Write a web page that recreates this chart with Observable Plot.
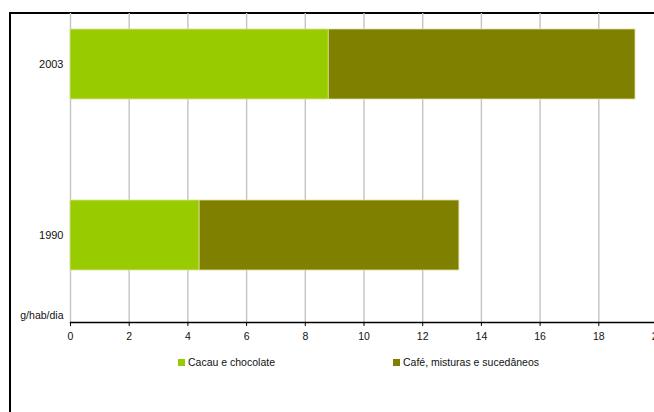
<!DOCTYPE html>
<html>
<head>
<meta charset="utf-8">
<script src="https://cdn.jsdelivr.net/npm/d3@7"></script>
<script src="https://cdn.jsdelivr.net/npm/@observablehq/plot@0.6"></script>
<style>
  html, body { margin: 0; padding: 0; background: #fff; overflow: hidden; width: 654px; height: 412px; }
  #box { position: absolute; left: 9px; top: 12px; width: 700px; height: 460px; border-left: 2px solid #000; border-top: 2px solid #000; box-sizing: border-box; }
  #chart { position: absolute; left: 0; top: 0; }
  #legend { position: absolute; left: 0; top: 355px; width: 654px; height: 20px; font-family: "Liberation Sans", Arial, sans-serif; font-size: 10.5px; color: #111; }
  .item { position: absolute; top: 0; display: flex; align-items: center; height: 14px; white-space: nowrap; }
  .sw { width: 7px; height: 7px; margin-right: 3px; }
</style>
</head>
<body>
<div id="box"></div>
<div id="chart"></div>
<div id="legend"></div>
<script>
const years = ["2003", "1990"];
const seriesNames = ["Cacau e chocolate", "Café, misturas e sucedâneos"];
const cacau = [8.8, 4.4];
const cafe = [10.45, 8.85];
const xTicks = [0, 2, 4, 6, 8, 10, 12, 14, 16, 18, 20];
const colors = ["#99cc00", "#808000"];
const unitLabel = "g/hab/dia";

const table = [];
years.forEach((y, i) => {
  table.push({year: y, series: seriesNames[0], value: cacau[i]});
  table.push({year: y, series: seriesNames[1], value: cafe[i]});
});

const plot = Plot.plot({
  width: 654,
  height: 350,
  marginLeft: 70,
  marginRight: 0,
  marginTop: 13,
  marginBottom: 28,
  style: {fontFamily: "'Liberation Sans', Arial, sans-serif", fontSize: "10.5px", color: "#111", background: "transparent"},
  x: {domain: [0, 20], range: [70, 657]},
  y: {domain: years, range: [-23, 321], paddingInner: 0.593, paddingOuter: 0.297, align: 0.5},
  color: {domain: seriesNames, range: colors},
  marks: [
    Plot.gridX(xTicks, {stroke: "#c4c4c4", strokeOpacity: 1, strokeWidth: 1.4}),
    Plot.barX(table, Plot.stackX({x: "value", y: "year", fill: "series", stroke: "#dede9a", strokeWidth: 0.8})),
    Plot.frame({anchor: "bottom", stroke: "#000", strokeWidth: 1.4}),
    Plot.axisX(xTicks, {tickSize: 4, tickPadding: 6, tickFormat: d => String(d), stroke: "#000", label: null}),
    Plot.axisY({tickSize: 0, tickPadding: 7, label: null, fontSize: "11px"}),
    Plot.text([unitLabel], {frameAnchor: "bottom-left", dx: -7, dy: -4, textAnchor: "end", fontSize: "10.5px", fill: "#111"})
  ]
});
document.getElementById("chart").appendChild(plot);

const legend = document.getElementById("legend");
const legendX = [178, 393];
seriesNames.forEach((name, i) => {
  const item = document.createElement("div");
  item.className = "item";
  item.style.left = legendX[i] + "px";
  const sw = document.createElement("span");
  sw.className = "sw";
  sw.style.background = colors[i];
  const t = document.createElement("span");
  t.textContent = name;
  item.appendChild(sw);
  item.appendChild(t);
  legend.appendChild(item);
});
</script>
</body>
</html>
